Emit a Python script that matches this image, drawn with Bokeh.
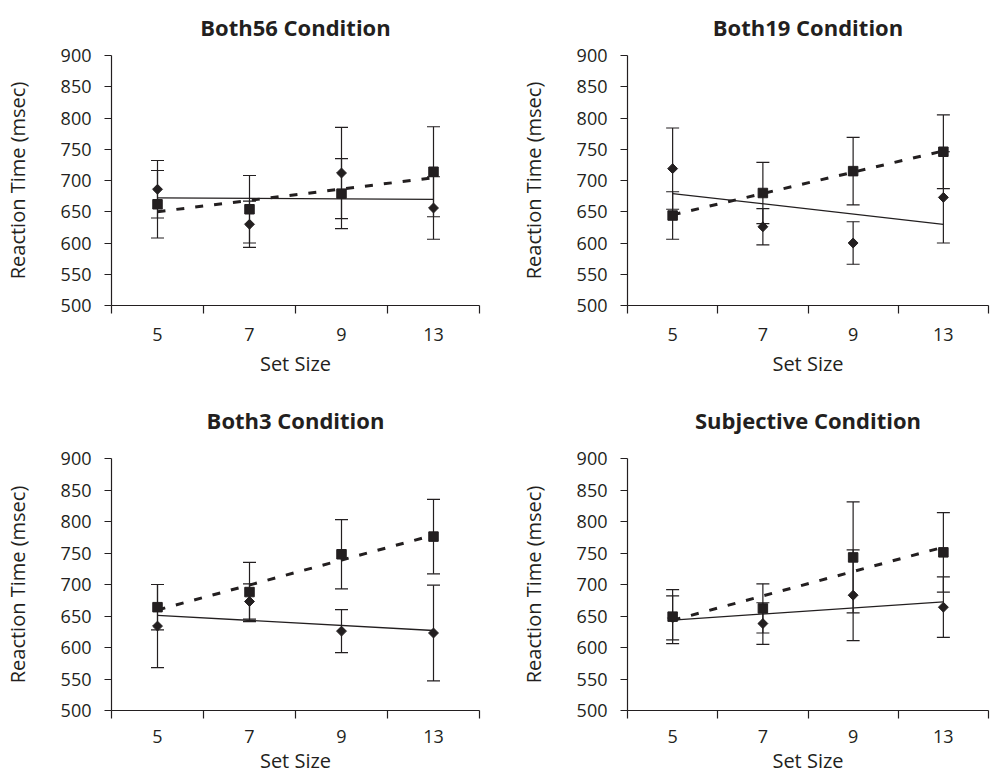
import numpy as np
from bokeh.plotting import figure
from bokeh.models import Range1d, FixedTicker, ColumnDataSource, Whisker, TeeHead
from bokeh.layouts import column, row
from bokeh.embed import file_html
from bokeh.resources import INLINE

# ---------------- data ----------------
set_sizes = ["5", "7", "9", "13"]
titles = ["Both56 Condition", "Both19 Condition", "Both3 Condition", "Subjective Condition"]

both56_diamond = [686, 630, 712, 656]
both56_diamond_err = [46, 37, 73, 50]
both56_square = [662, 654, 679, 714]
both56_square_err = [54, 54, 56, 72]

both19_diamond = [719, 626, 600, 673]
both19_diamond_err = [65, 29, 34, 73]
both19_square = [644, 680, 715, 746]
both19_square_err = [38, 49, 54, 59]

both3_diamond = [634, 673, 626, 623]
both3_diamond_err = [66, 28, 34, 76]
both3_square = [664, 688, 748, 776]
both3_square_err = [36, 47, 55, 59]

subj_diamond = [647, 638, 683, 664]
subj_diamond_err = [35, 33, 72, 48]
subj_square = [649, 662, 743, 751]
subj_square_err = [43, 39, 88, 63]

y_ticks = list(range(500, 901, 50))

INK = "#231f20"
FONT = "Open Sans"


def make_panel(title, dia, dia_err, sq, sq_err, width, height,
               b_left, b_right, b_top, b_bottom, title_standoff,
               tick_standoff, xlabel_standoff):
    n = len(set_sizes)
    xs = np.arange(1, n + 1)
    p = figure(width=width, height=height,
               x_range=Range1d(0.5, n + 0.5), y_range=Range1d(500, 900),
               output_backend="svg", toolbar_location=None,
               min_border_left=b_left, min_border_right=b_right,
               min_border_top=b_top, min_border_bottom=b_bottom)
    p.outline_line_color = None
    p.xgrid.visible = False
    p.ygrid.visible = False
    p.background_fill_color = "white"
    p.border_fill_color = "white"

    p.title.text = title
    p.title.align = "center"
    p.title.vertical_align = "top"
    p.title.text_font = FONT
    p.title.text_font_size = "22px"
    p.title.text_font_style = "bold"
    p.title.text_color = INK
    try:
        p.title.standoff = title_standoff
    except AttributeError:
        pass

    # x axis: labels at categories, tick marks at category boundaries
    xa = p.xaxis[0]
    xa.ticker = FixedTicker(ticks=list(xs), minor_ticks=[i + 0.5 for i in range(n + 1)])
    xa.major_label_overrides = {int(i): s for i, s in zip(xs, set_sizes)}
    xa.major_tick_line_color = None
    xa.major_tick_out = 0
    xa.major_tick_in = 0
    xa.minor_tick_out = 8
    xa.minor_tick_in = 0
    xa.minor_tick_line_color = INK
    xa.minor_tick_line_width = 1.2
    xa.axis_line_color = INK
    xa.axis_line_width = 1.2
    xa.major_label_standoff = tick_standoff
    xa.major_label_text_font = FONT
    xa.major_label_text_font_size = "18px"
    xa.major_label_text_color = INK
    xa.axis_label = "Set Size"
    xa.axis_label_text_font = FONT
    xa.axis_label_text_font_size = "20px"
    xa.axis_label_text_font_style = "normal"
    xa.axis_label_text_color = INK
    xa.axis_label_standoff = xlabel_standoff

    ya = p.yaxis[0]
    ya.ticker = FixedTicker(ticks=y_ticks, minor_ticks=[])
    ya.major_tick_out = 7
    ya.major_tick_in = 0
    ya.major_tick_line_color = INK
    ya.major_tick_line_width = 1.2
    ya.minor_tick_line_color = None
    ya.axis_line_color = INK
    ya.axis_line_width = 1.2
    ya.major_label_standoff = 13
    ya.major_label_text_font = FONT
    ya.major_label_text_font_size = "18px"
    ya.major_label_text_color = INK
    ya.axis_label = "Reaction Time (msec)"
    ya.axis_label_text_font = FONT
    ya.axis_label_text_font_size = "20px"
    ya.axis_label_text_font_style = "normal"
    ya.axis_label_text_color = INK
    ya.axis_label_standoff = 27

    # linear trend lines (least squares on category position)
    for vals, dash, lw in ((dia, "solid", 1.3), (sq, "8 11", 3.0)):
        k, b = np.polyfit(xs, np.array(vals, dtype=float), 1)
        p.line([xs[0], xs[-1]], [k * xs[0] + b, k * xs[-1] + b],
               line_color=INK, line_width=lw, line_dash=dash)

    # error bars
    for vals, errs in ((dia, dia_err), (sq, sq_err)):
        v = np.array(vals, dtype=float)
        e = np.array(errs, dtype=float)
        src = ColumnDataSource(dict(x=xs, upper=v + e, lower=v - e))
        w = Whisker(base="x", upper="upper", lower="lower", source=src,
                    line_color=INK, line_width=1.2, level="underlay",
                    upper_head=TeeHead(size=13, line_color=INK, line_width=1.2),
                    lower_head=TeeHead(size=13, line_color=INK, line_width=1.2))
        p.add_layout(w)

    # markers
    p.scatter(xs, dia, marker="square", angle=np.pi / 4, size=7,
              fill_color=INK, line_color=INK)
    p.scatter(xs, sq, marker="square", size=9.5,
              fill_color=INK, line_color=INK)
    return p


p1 = make_panel(titles[0], both56_diamond, both56_diamond_err, both56_square, both56_square_err,
                516, 380, 107, 37, 55, 75, 23, 14, 6)
p2 = make_panel(titles[1], both19_diamond, both19_diamond_err, both19_square, both19_square_err,
                475, 380, 107, 3, 55, 75, 23, 14, 6)
p3 = make_panel(titles[2], both3_diamond, both3_diamond_err, both3_square, both3_square_err,
                516, 397, 107, 37, 78, 67, 44, 11, 1)
p4 = make_panel(titles[3], subj_diamond, subj_diamond_err, subj_square, subj_square_err,
                475, 397, 107, 3, 78, 67, 44, 11, 1)

layout = column(row(p1, p2), row(p3, p4))

open("out.html", "w").write(file_html(layout, INLINE))
